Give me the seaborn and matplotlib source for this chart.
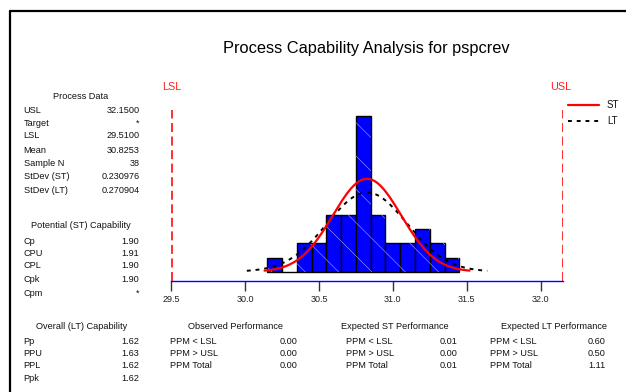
import numpy as np
import pandas as pd
import matplotlib
matplotlib.use("Agg")
import matplotlib.pyplot as plt
from matplotlib.lines import Line2D
from matplotlib.patches import Rectangle
import seaborn as sns

# ---- data -------------------------------------------------------------
bin_centers = [30.2, 30.3, 30.4, 30.5, 30.6, 30.7, 30.8, 30.9, 31.0, 31.1, 31.2, 31.3, 31.4]
bin_counts = [1, 0, 2, 2, 4, 4, 11, 4, 2, 2, 3, 2, 1]
bin_width = 0.1

usl = 32.15
lsl = 29.51
mean = 30.8253
n_samples = 38
sd_st = 0.230976
sd_lt = 0.270904

x_ticks = [29.5, 30.0, 30.5, 31.0, 31.5, 32.0]

process_rows = [("USL", "32.1500"), ("Target", "*"), ("LSL", "29.5100"), ("Mean", "30.8253"),
                ("Sample N", "38"), ("StDev (ST)", "0.230976"), ("StDev (LT)", "0.270904")]
potential_rows = [("Cp", "1.90"), ("CPU", "1.91"), ("CPL", "1.90"), ("Cpk", "1.90"), ("Cpm", "*")]
overall_rows = [("Pp", "1.62"), ("PPU", "1.63"), ("PPL", "1.62"), ("Ppk", "1.62")]
observed_rows = [("PPM < LSL", "0.00"), ("PPM > USL", "0.00"), ("PPM Total", "0.00")]
exp_st_rows = [("PPM < LSL", "0.01"), ("PPM > USL", "0.00"), ("PPM Total", "0.01")]
exp_lt_rows = [("PPM < LSL", "0.60"), ("PPM > USL", "0.50"), ("PPM Total", "1.11")]

# ---- style ------------------------------------------------------------
sns.set_style("white")
plt.rcParams["font.family"] = ["Liberation Sans", "DejaVu Sans"]
plt.rcParams["hatch.linewidth"] = 0.4

W, H = 626, 392
fig = plt.figure(figsize=(W / 100, H / 100), dpi=100)

# axes placed in pixel terms
ax_l, ax_r, ax_b, ax_t = 171, 563, 280.7, 110
ax = fig.add_axes([ax_l / W, 1 - ax_b / H, (ax_r - ax_l) / W, (ax_b - ax_t) / H])

hist_df = pd.DataFrame({"x": bin_centers, "w": bin_counts})
edges = [round(bin_centers[0] - bin_width / 2 + bin_width * i, 4) for i in range(len(bin_centers) + 1)]
sns.histplot(data=hist_df, x="x", weights="w", bins=edges, stat="count",
             color="#0000ff", alpha=1.0, edgecolor="black", linewidth=1.0, ax=ax)

# faint diagonal hatching laid over each bar, leaving the black outlines visible
for p in list(ax.patches):
    if p.get_height() > 0:
        ax.add_patch(Rectangle((p.get_x(), p.get_y()), p.get_width(), p.get_height(),
                               fill=False, edgecolor="#a8a8ff", linewidth=0, hatch="\\", zorder=p.get_zorder()))

# fitted normal curves (short and long term), scaled to counts, over +/-3 sigma
def normal_curve(sd):
    xs = np.linspace(mean - 3 * sd, mean + 3 * sd, 200)
    ys = n_samples * bin_width / (sd * np.sqrt(2 * np.pi)) * np.exp(-0.5 * ((xs - mean) / sd) ** 2)
    return pd.DataFrame({"x": xs, "y": ys})

lt = normal_curve(sd_lt)
st = normal_curve(sd_st)
sns.lineplot(data=lt, x="x", y="y", color="black", linewidth=1.4, linestyle=(0, (2, 2.5)), ax=ax)
sns.lineplot(data=st, x="x", y="y", color="#ff0000", linewidth=1.6, ax=ax)

# specification limits
for v in (lsl, usl):
    ax.axvline(v, color="#ff2020", linewidth=1.3, linestyle=(0, (5, 2.5)))

ax.set_xlim(29.5, usl)
ax.set_ylim(-0.64, 11.43)
ax.set_xticks(x_ticks)
ax.set_xticklabels([f"{t:.1f}" for t in x_ticks])
ax.set_yticks([])
ax.set_xlabel("")
ax.set_ylabel("")
for s in ("top", "left", "right"):
    ax.spines[s].set_visible(False)
ax.spines["bottom"].set_color("#0000ff")
ax.spines["bottom"].set_linewidth(1.0)
ax.tick_params(axis="x", direction="out", length=7, width=1, color="#333333",
               labelsize=6.5, labelcolor="#222222", pad=3, bottom=True)
ax.patch.set_alpha(0)

# ---- figure-level text --------------------------------------------------
def put(x, y, s, ha="left", size=6.6, color="#111111"):
    fig.text(x / W, 1 - y / H, s, ha=ha, va="center", fontsize=size, color=color)

put(366, 49, "Process Capability Analysis for pspcrev", ha="center", size=11.8, color="black")
put(172, 87.5, "LSL", ha="center", size=7.8, color="#ff2020")
put(561, 87.5, "USL", ha="center", size=7.8, color="#ff2020")

# legend
fig.add_artist(Line2D([567.5 / W, 599 / W], [1 - 105 / H, 1 - 105 / H], color="#ff0000", linewidth=1.6))
fig.add_artist(Line2D([567.5 / W, 599 / W], [1 - 121 / H, 1 - 121 / H], color="black",
                      linewidth=1.4, linestyle=(0, (2, 2.5))))
put(607, 105, "ST", size=7)
put(607, 121, "LT", size=7)

def block(title, title_x, title_y, rows, row_ys, lab_x, val_x):
    put(title_x, title_y, title, ha="center")
    for (lab, val), y in zip(rows, row_ys):
        put(lab_x, y, lab)
        put(val_x, y, val, ha="right")

block("Process Data", 81, 96.7, process_rows,
      [110.7, 123.7, 136, 150.5, 163.3, 176.7, 190.5], 23.5, 139.5)
block("Potential (ST) Capability", 81, 225.7, potential_rows,
      [241.3, 253.5, 266, 280, 293.3], 23.5, 139.5)
block("Overall (LT) Capability", 81.5, 326.7, overall_rows,
      [341.7, 353.5, 366, 378.3], 23.5, 139.5)
block("Observed Performance", 235.7, 326.7, observed_rows,
      [341.7, 353.5, 366], 170, 297.7)
block("Expected ST Performance", 394.7, 326.7, exp_st_rows,
      [341.7, 353.5, 366], 346, 457.3)
block("Expected LT Performance", 553.8, 326.7, exp_lt_rows,
      [341.7, 353.5, 366], 490, 605.7)

# partial frame: top and left edges
fig.add_artist(Line2D([10 / W, 1.0], [1 - 11 / H, 1 - 11 / H], color="black", linewidth=1.6))
fig.add_artist(Line2D([10 / W, 10 / W], [1 - 11 / H, 0.0], color="black", linewidth=1.6))

fig.savefig("out.png", dpi=100)
